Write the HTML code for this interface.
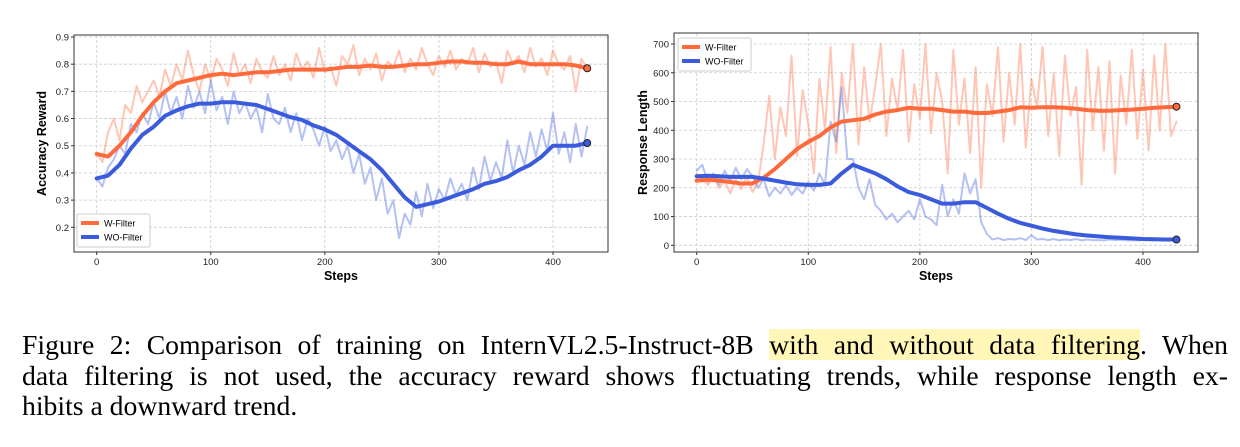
<!DOCTYPE html>
<html><head><meta charset="utf-8"><style>
body{margin:0;background:#fff;width:1240px;height:447px;overflow:hidden;position:relative}
svg{position:absolute;left:0;top:0}
.cap{position:absolute;left:22px;top:330px;width:1206px;font-family:"Liberation Serif",serif;font-size:27.7px;line-height:30.5px;color:#000}
.cap div{text-align:justify;text-align-last:justify;white-space:nowrap}
.cap div.last{text-align-last:left}
.hl{background:#fff6b8}
</style></head><body>
<svg id="chart" width="1240" height="320" xmlns="http://www.w3.org/2000/svg" font-family="Liberation Sans, sans-serif"></svg>
<div class="cap">
<div>Figure 2: Comparison of training on InternVL2.5-Instruct-8B <span class="hl">with and without data filtering</span>. When</div>
<div>data filtering is not used, the accuracy reward shows fluctuating trends, while response length ex-</div>
<div class="last">hibits a downward trend.</div>
</div>
<script>
const smoothSteps=[];for(let s=0;s<=430;s+=10)smoothSteps.push(s);
const rawSteps=[];for(let s=0;s<=430;s+=5)rawSteps.push(s);
const accW=[0.47,0.46,0.50,0.55,0.61,0.66,0.70,0.73,0.74,0.75,0.76,0.765,0.76,0.765,0.77,0.77,0.775,0.78,0.78,0.78,0.78,0.785,0.79,0.79,0.795,0.79,0.79,0.795,0.80,0.80,0.805,0.81,0.81,0.805,0.805,0.80,0.80,0.81,0.80,0.80,0.80,0.80,0.795,0.785];
const accWO=[0.38,0.39,0.43,0.49,0.54,0.57,0.61,0.63,0.645,0.655,0.655,0.66,0.66,0.655,0.65,0.635,0.62,0.605,0.595,0.575,0.56,0.54,0.51,0.48,0.45,0.41,0.36,0.31,0.275,0.285,0.295,0.31,0.325,0.34,0.36,0.37,0.385,0.41,0.43,0.46,0.50,0.50,0.50,0.51];
const accWRaw=[.47,.44,.55,.60,.52,.65,.62,.72,.66,.70,.74,.68,.78,.72,.80,.74,.85,.76,.70,.80,.74,.82,.78,.72,.84,.76,.80,.73,.82,.77,.75,.83,.76,.80,.74,.84,.78,.81,.75,.86,.77,.79,.72,.83,.80,.87,.76,.82,.78,.84,.74,.81,.79,.85,.77,.82,.78,.86,.80,.76,.83,.79,.85,.78,.82,.80,.86,.77,.84,.79,.81,.73,.85,.80,.83,.77,.86,.79,.82,.76,.85,.80,.78,.83,.70,.82,.78];
const accWORaw=[.38,.35,.42,.45,.50,.47,.58,.55,.62,.58,.66,.60,.70,.62,.68,.60,.72,.64,.70,.62,.74,.63,.68,.58,.70,.62,.66,.60,.64,.55,.69,.60,.58,.64,.55,.62,.52,.60,.56,.50,.57,.48,.52,.45,.50,.40,.47,.36,.42,.30,.38,.25,.30,.16,.25,.21,.33,.24,.36,.27,.34,.30,.38,.32,.36,.30,.42,.34,.46,.37,.44,.38,.52,.40,.50,.43,.55,.46,.56,.48,.62,.47,.55,.44,.58,.46,.57];
const lenW=[225,228,225,220,215,215,235,265,300,335,360,380,410,430,435,440,455,465,470,478,475,475,470,465,465,460,460,465,470,480,478,480,480,478,475,470,468,468,470,472,475,478,480,482];
const lenWO=[240,242,240,238,238,238,232,225,218,212,210,210,215,250,280,265,250,230,205,185,175,160,145,145,150,150,130,110,92,78,68,58,50,44,38,34,31,28,26,24,22,21,20,20];
const lenWRaw=[250,230,210,240,200,225,180,230,195,240,185,220,350,520,300,480,380,660,310,540,420,250,580,400,690,320,600,460,700,350,620,430,550,700,380,580,470,680,360,560,440,700,390,600,500,250,680,420,580,320,620,200,560,450,690,360,600,420,700,340,580,480,690,380,600,310,660,450,550,210,680,400,620,330,640,250,590,420,680,370,610,330,660,400,700,380,430];
const lenWORaw=[260,280,220,250,210,260,220,270,230,265,240,200,230,170,200,180,210,175,200,180,220,190,250,210,430,360,550,300,300,200,160,230,140,120,90,110,80,100,120,90,160,100,90,70,210,100,160,110,250,180,230,80,40,20,25,18,22,20,25,18,35,20,22,18,22,17,20,18,22,17,20,18,18,17,20,18,19,17,18,17,18,18,17,18,17,18,18];
const xTicks=[0,100,200,300,400];
const accTicks=[0.2,0.3,0.4,0.5,0.6,0.7,0.8,0.9];
const lenTicks=[0,100,200,300,400,500,600,700];
const OR='#ff6a3d',BL='#3a5bdc';
const svg=document.getElementById('chart');const NS='http://www.w3.org/2000/svg';
function mk(t,a,p){const e=document.createElementNS(NS,t);for(const k in a)e.setAttribute(k,a[k]);(p||svg).appendChild(e);return e;}
function panel(o){
 const g=mk('g',{});
 
 
 const X=v=>o.x0+(v-0)*(o.x400-o.x0)/400, Y=v=>o.yA+(v-o.vA)*(o.yB-o.yA)/(o.vB-o.vA);
 mk('rect',{x:o.L,y:o.T,width:o.R-o.L,height:o.B-o.T,fill:'#fff'},g);
 xTicks.forEach(t=>{mk('line',{x1:X(t),x2:X(t),y1:o.T,y2:o.B,stroke:'#ccc','stroke-dasharray':'3,2','stroke-width':0.8},g);
  mk('line',{x1:X(t),x2:X(t),y1:o.B,y2:o.B+3,stroke:'#333'},g);
  const tx=mk('text',{x:X(t),y:o.B+13,'font-size':9.5,'text-anchor':'middle',fill:'#222'},g);tx.textContent=t;
  });
 o.yt.forEach(t=>{mk('line',{x1:o.L,x2:o.R,y1:Y(t),y2:Y(t),stroke:'#ccc','stroke-dasharray':'3,2','stroke-width':0.8},g);
  mk('line',{x1:o.L-3,x2:o.L,y1:Y(t),y2:Y(t),stroke:'#333'},g);
  const tx=mk('text',{x:o.L-5,y:Y(t)+3.5,'font-size':9.5,'text-anchor':'end',fill:'#222'},g);tx.textContent=o.fmt(t);
  });
 const line=(xs,ys,c,w,op,nm)=>{const p=mk('path',{d:ys.map((v,i)=>(i?'L':'M')+X(xs[i]).toFixed(1)+','+Y(v).toFixed(1)).join(''),fill:'none',stroke:c,'stroke-width':w,'stroke-opacity':op,'stroke-linejoin':'round','stroke-linecap':'round'},g);
  };
 line(rawSteps,o.wr,OR,2,0.38,'w-filter-raw-line');
 line(rawSteps,o.wor,BL,2,0.38,'wo-filter-raw-line');
 line(smoothSteps,o.w,OR,4,1,'w-filter-smooth-line');
 line(smoothSteps,o.wo,BL,4,1,'wo-filter-smooth-line');
 [[o.w,OR,'w-filter-end-marker'],[o.wo,BL,'wo-filter-end-marker']].forEach(([a,c,n])=>{const m=mk('circle',{cx:X(430),cy:Y(a[a.length-1]),r:3.5,fill:c,stroke:'#222','stroke-width':1},g);});
 mk('rect',{x:o.L,y:o.T,width:o.R-o.L,height:o.B-o.T,fill:'none',stroke:'#333','stroke-width':1},g);
 const xl=mk('text',{x:(o.L+o.R)/2,y:o.B+28,'font-size':12.5,'font-weight':'bold','text-anchor':'middle'},g);xl.textContent='Steps';
 
 const yl=mk('text',{x:0,y:0,'font-size':12.5,'font-weight':'bold','text-anchor':'middle',transform:`translate(${o.ylx},${(o.T+o.B)/2}) rotate(-90)`},g);yl.textContent=o.ylab;
 
 const lg=mk('g',{},g);
 mk('rect',{x:o.lgx,y:o.lgy,width:73,height:33,fill:'#fff',stroke:'#ccc',rx:2},lg);
 [['W-Filter',OR],['WO-Filter',BL]].forEach(([t,c],i)=>{mk('line',{x1:o.lgx+4,x2:o.lgx+22,y1:o.lgy+9+i*14,y2:o.lgy+9+i*14,stroke:c,'stroke-width':4},lg);
  const tx=mk('text',{x:o.lgx+27,y:o.lgy+12.5+i*14,'font-size':9},lg);tx.textContent=t;
  });
}
panel({name:'accuracy-reward-chart',L:74,R:608,T:35,B:252,x0:96.7,x400:553,vA:0.9,yA:37,vB:0.2,yB:227.3,yt:accTicks,fmt:t=>t.toFixed(1),
 w:accW,wo:accWO,wr:accWRaw,wor:accWORaw,ylab:'Accuracy Reward',ylx:46,lgx:77,lgy:214});
panel({name:'response-length-chart',L:674,R:1198,T:33,B:252,x0:696.7,x400:1143,vA:700,yA:44,vB:0,yB:245.3,yt:lenTicks,fmt:t=>t,
 w:lenW,wo:lenWO,wr:lenWRaw,wor:lenWORaw,ylab:'Response Length',ylx:647,lgx:678,lgy:38});
</script>
</body></html>
